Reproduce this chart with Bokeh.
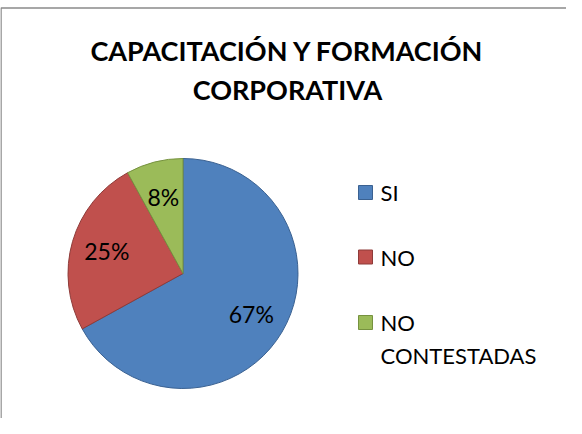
import numpy as np
from bokeh.plotting import figure
from bokeh.models import Range1d
from bokeh.core.properties import value
from bokeh.embed import file_html
from bokeh.resources import INLINE

# ---- data ----
title_lines = ["CAPACITACIÓN Y FORMACIÓN", "CORPORATIVA"]
categories = ["SI", "NO", "NO CONTESTADAS"]
percents = [67, 25, 8]
fills = ["#4F81BD", "#C0504D", "#9BBB59"]
edges = ["#3A6191", "#8E3B39", "#76923F"]

W, H = 566, 418
FONT = "Lato"

def sx(x):  # screen px -> figure x
    return x - 8

def sy(y):  # screen px -> figure y
    return H - (y - 8)

p = figure(width=W, height=H, output_backend="svg", toolbar_location=None,
           x_range=Range1d(0, W), y_range=Range1d(0, H), min_border=0,
           outline_line_color=None)
p.axis.visible = False
p.grid.visible = False
p.background_fill_color = "white"
p.border_fill_color = "white"

# chart area border (top & left visible)
p.line([sx(8.5), sx(8.5), W + 2], [-2, sy(15.5), sy(15.5)],
       line_color="#8A8A8A", line_width=1.5)

# pie
cx, cy, R = sx(190.5), sy(281), 115
fr = np.array(percents, dtype=float) / sum(percents)
cum = np.concatenate([[0], np.cumsum(fr)])
starts = np.pi / 2 - 2 * np.pi * cum[:-1]
ends = np.pi / 2 - 2 * np.pi * cum[1:]
p.wedge(x=[cx] * 3, y=[cy] * 3, radius=R, radius_units="screen",
        start_angle=list(starts), end_angle=list(ends), direction="clock",
        fill_color=fills, line_color=edges, line_width=1)

mids = (starts + ends) / 2
lr = 0.69 * R
lx = cx + lr * np.cos(mids)
ly = cy + lr * np.sin(mids)
p.text(x=list(lx), y=list(ly), text=[f"{v}%" for v in percents],
       text_font=value(FONT), text_font_size="23px", text_color="black",
       text_align="center", text_baseline="middle")

# title
p.text(x=[sx(295)] * 2, y=[sy(58), sy(97)], text=title_lines,
       text_font=value(FONT), text_font_size="27px", text_font_style="bold",
       text_color="black", text_align="center", text_baseline="middle")

# legend
leg_y = [sy(200), sy(264.5), sy(330)]
p.rect(x=[sx(373)] * 3, y=leg_y, width=14, height=14, width_units="screen",
       height_units="screen", fill_color=fills, line_color=edges, line_width=1)
first = [c.split(" ", 1)[0] if c.startswith("NO ") else c for c in categories]
second = [c.split(" ", 1)[1] for c in categories if c.startswith("NO ")]
p.text(x=[sx(388)] * 3, y=[sy(200), sy(265), sy(330)], text=first,
       text_font=value(FONT), text_font_size="22px", text_color="black",
       text_align="left", text_baseline="middle")
p.text(x=[sx(388)] * len(second), y=[sy(362.5)] * len(second), text=second,
       text_font=value(FONT), text_font_size="22px", text_color="black",
       text_align="left", text_baseline="middle")

open("out.html", "w").write(file_html(p, INLINE))
